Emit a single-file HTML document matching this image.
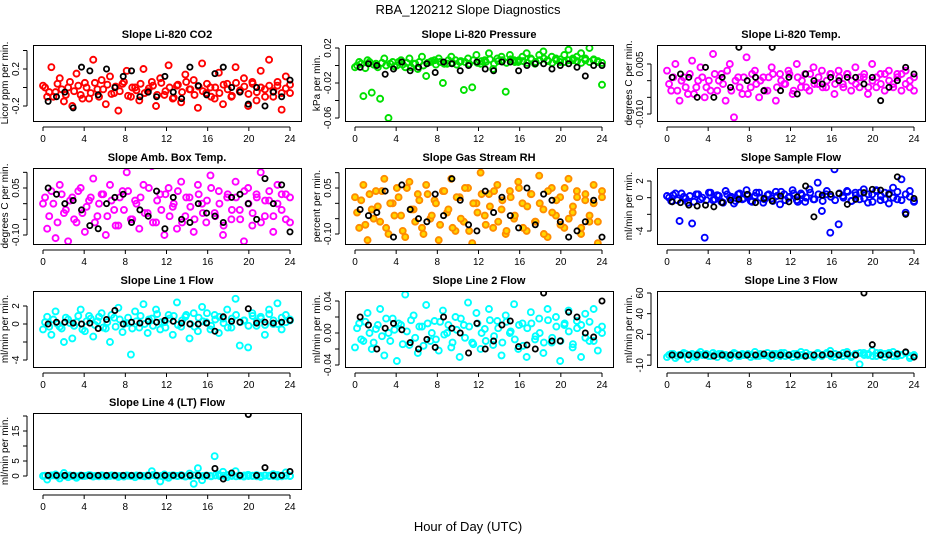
<!DOCTYPE html>
<html><head><meta charset="utf-8"><style>
body{margin:0;background:#fff;}
svg{display:block;font-family:"Liberation Sans",Arial,sans-serif;}
</style></head><body>
<svg id="c" width="936" height="540" viewBox="0 0 936 540">
<text x="468" y="14" text-anchor="middle" font-size="13">RBA_120212  Slope Diagnostics</text>
<text x="468" y="531" text-anchor="middle" font-size="13">Hour of Day (UTC)</text>
</svg>
<script>
// x ticks (hours)
const xTicks = [0,4,8,12,16,20,24];
// Panel 1: Li-820 CO2
const co2Color = [0.02,-0.1,0.22,-0.05,0.1,-0.15,0.0,-0.2,0.15,-0.08,0.05,-0.12,0.3,-0.02,0.08,-0.18,0.12,-0.06,-0.25,0.04,0.18,-0.1,0.0,-0.14,0.2,-0.04,0.06,-0.2,0.1,-0.08,0.24,-0.12,0.02,-0.16,0.14,-0.02,0.08,-0.22,0.26,-0.06,0.0,-0.12,0.16,-0.18,0.04,-0.1,0.22,-0.04,0.1,-0.2,0.06,-0.14,0.18,-0.02,0.3,-0.1,0.02,-0.24,0.12,-0.06];
const co2Core = [0.0,-0.05,-0.1,0.04,-0.02,-0.08,0.06,-0.04,0.02,-0.12,0.0,-0.06,0.05,-0.1,-0.02,0.03,-0.07,0.01,-0.04,0.06,-0.09,0.0,-0.03,0.04,-0.06,-0.01,0.02,-0.08,0.05,-0.04,0.0,-0.11,0.03,-0.05,0.06,-0.02,-0.08,0.01,-0.04,0.04,-0.1,0.0,-0.06,0.03,-0.02,-0.09,0.05,-0.03,0.01,-0.07,0.04,-0.05,0.0,-0.1,0.02,-0.04,0.06,-0.06,-0.01,0.03];
const co2Black = [-0.15,-0.1,-0.05,-0.22,0.22,0.18,-0.08,0.2,0.0,0.12,0.18,-0.1,-0.05,-0.1,0.12,-0.05,-0.12,0.22,0.02,-0.08,0.15,0.22,0.0,-0.05,-0.18,0.0,-0.2,-0.05,-0.1,0.08];
// Panel 2: Li-820 Pressure
const presColor = [-0.002,0.004,-0.035,0.006,-0.031,0.002,-0.038,0.008,-0.06,0.004,0.0,0.006,-0.002,0.008,0.002,-0.004,0.01,-0.012,0.004,0.006,0.008,-0.02,0.002,0.01,0.006,0.004,-0.028,0.008,-0.025,0.012,0.002,0.006,0.014,-0.004,0.008,0.01,-0.03,0.012,0.006,0.004,0.01,0.014,0.008,0.002,0.012,0.016,0.006,0.01,0.008,0.004,0.012,0.018,0.006,0.01,0.014,0.008,0.02,0.006,0.004,-0.022];
const presCore = [0.0,0.002,-0.003,0.004,0.001,-0.002,0.003,0.0,0.002,-0.001,0.004,0.001,0.003,-0.002,0.002,0.004,0.0,0.003,0.005,0.001,0.004,0.002,0.006,0.003,0.001,0.005,0.004,0.002,0.006,0.003,0.005,0.004,0.007,0.002,0.005,0.006,0.003,0.007,0.004,0.006,0.005,0.003,0.007,0.004,0.006,0.008,0.005,0.003,0.006,0.007,0.004,0.006,0.008,0.005,0.003,0.006,0.004,0.007,0.005,0.003];
const presBlack = [-0.002,0.002,0.0,-0.01,-0.004,0.004,-0.006,-0.002,0.002,-0.008,0.004,0.002,-0.006,0.0,0.004,-0.004,-0.006,0.004,0.004,-0.006,0.0,0.002,0.002,-0.004,0.0,0.002,-0.002,-0.012,0.0,0.0];
// Panel 3: Li-820 Temp
const tempColor = [0.003,-0.003,0.005,-0.006,0.001,-0.004,0.006,-0.002,0.004,-0.005,0.0,0.008,-0.003,0.002,-0.006,0.005,-0.011,0.001,-0.004,0.007,-0.002,0.003,-0.005,0.001,-0.003,0.004,-0.006,0.002,-0.001,0.003,-0.004,0.005,-0.002,0.002,-0.003,0.004,-0.001,0.003,-0.002,0.002,-0.004,0.003,-0.001,0.002,-0.003,0.004,-0.002,0.001,-0.004,0.005,-0.002,0.002,-0.003,0.003,-0.001,0.002,-0.003,0.003,-0.002,-0.003];
const tempCore = [-0.001,0.001,-0.003,0.0,-0.002,0.002,-0.004,0.0,0.001,-0.002,-0.003,0.002,0.0,-0.001,0.003,-0.003,0.0,-0.002,0.001,-0.004,0.002,-0.001,0.0,-0.003,0.001,0.002,-0.002,0.0,-0.001,0.002,-0.003,0.001,0.0,-0.002,0.002,-0.001,0.001,-0.002,0.0,0.002,-0.001,0.001,-0.002,0.002,0.0,-0.001,0.001,0.002,-0.002,0.0,0.001,-0.001,0.002,0.0,-0.002,0.001,0.002,-0.001,0.0,0.001];
const tempBlack = [0.001,0.002,0.001,-0.005,0.004,-0.005,0.001,-0.002,0.01,0.0,0.001,-0.003,0.01,-0.003,0.001,-0.004,0.002,0.0,-0.001,0.001,0.0,0.001,0.001,-0.001,0.001,-0.006,-0.002,0.0,0.004,0.002];
// Panel 4: Amb. Box Temp
const ambColor = [0.0,-0.08,0.04,-0.11,0.06,-0.03,-0.12,0.02,-0.06,0.05,-0.09,0.01,0.08,-0.04,0.03,-0.1,0.06,-0.02,-0.07,0.04,0.1,-0.05,0.01,-0.08,0.06,-0.03,0.12,-0.06,0.03,-0.1,0.05,-0.01,-0.08,0.07,-0.04,0.02,-0.09,0.06,0.0,-0.06,0.09,-0.03,0.04,-0.1,0.02,-0.05,0.07,-0.02,-0.12,0.05,-0.07,0.03,0.1,-0.04,0.01,-0.09,0.06,-0.02,0.03,-0.06];
const ambCore = [0.02,-0.04,0.0,-0.06,0.03,-0.02,0.01,-0.05,0.04,-0.03,-0.01,0.02,-0.06,0.0,0.03,-0.04,0.01,-0.07,0.02,-0.02,0.04,-0.05,0.0,0.02,-0.03,0.05,-0.06,0.01,-0.02,0.03,-0.04,0.0,0.04,-0.06,0.02,-0.01,-0.05,0.03,-0.03,0.01,0.05,-0.04,0.0,-0.07,0.03,-0.02,0.02,-0.05,0.04,0.0,-0.03,0.02,-0.06,0.01,0.04,-0.04,0.0,0.03,-0.05,0.02];
const ambBlack = [0.05,0.03,0.0,0.01,-0.02,-0.07,-0.08,0.0,0.02,0.03,-0.06,-0.02,-0.04,0.04,-0.08,0.02,-0.05,-0.06,0.0,-0.03,-0.04,-0.06,0.02,0.03,0.0,-0.05,0.08,0.0,0.06,-0.09];
// Panel 5: Gas Stream RH
const rhColor = [0.02,-0.08,0.06,-0.12,-0.02,0.04,-0.06,0.08,-0.1,0.0,0.05,-0.04,-0.11,0.07,-0.02,0.03,-0.08,0.06,-0.05,0.01,-0.12,0.04,-0.03,0.08,-0.09,0.02,-0.06,0.05,-0.13,0.0,0.1,-0.04,0.03,-0.08,0.06,-0.02,-0.1,0.04,-0.05,0.07,0.0,-0.09,0.03,-0.06,0.09,-0.02,-0.11,0.05,-0.04,0.02,-0.08,0.08,-0.03,0.04,-0.1,0.01,-0.06,0.06,-0.13,0.02];
const rhCore = [-0.03,0.01,-0.07,0.03,-0.05,-0.01,0.04,-0.08,0.0,-0.04,0.02,-0.09,0.05,-0.02,-0.06,0.01,-0.1,0.03,-0.04,0.0,-0.07,0.04,-0.02,-0.08,0.02,-0.05,0.05,-0.09,0.0,-0.03,0.03,-0.07,-0.01,0.04,-0.06,0.01,-0.09,0.02,-0.04,0.05,-0.08,-0.01,0.03,-0.06,0.0,-0.1,0.04,-0.03,0.01,-0.07,0.05,-0.05,-0.01,0.02,-0.08,0.03,-0.04,0.0,-0.06,0.04];
const rhBlack = [-0.02,-0.04,-0.03,0.04,-0.11,0.06,-0.02,-0.05,-0.06,0.03,-0.04,0.08,0.01,-0.07,-0.09,0.04,-0.03,0.02,-0.04,-0.08,0.05,-0.07,0.03,0.01,-0.06,-0.11,-0.09,-0.06,0.01,-0.11];
// Panel 6: Sample Flow
const sfColor = [0.2,-0.4,0.5,-2.8,0.1,-0.6,-3.1,0.4,-0.2,-4.8,0.6,-0.3,0.3,-0.5,0.8,0.0,-0.7,0.4,-0.2,0.9,-0.4,0.2,0.6,-0.6,0.3,-0.1,0.7,-0.8,0.4,0.0,0.9,-0.3,0.5,-0.5,1.0,-0.2,1.8,-1.6,0.4,-4.2,3.4,-3.2,0.2,0.8,-0.4,0.6,-0.2,1.0,-0.6,0.4,0.9,-0.3,0.6,-0.7,1.2,-0.2,2.2,-1.8,0.8,-0.5];
const sfCore = [0.0,0.3,-0.3,0.5,-0.1,0.2,-0.5,0.4,0.0,-0.3,0.6,-0.2,0.2,-0.6,0.4,0.1,-0.4,0.5,-0.1,0.3,-0.5,0.6,0.0,-0.2,0.4,-0.4,0.2,0.7,-0.3,0.1,0.5,-0.5,0.3,0.0,0.6,-0.2,0.4,-0.4,0.8,0.1,-0.3,0.5,0.0,0.7,-0.4,0.3,0.6,-0.1,0.4,-0.5,0.8,0.2,-0.2,0.5,0.0,0.7,-0.3,0.4,0.1,-0.4];
const sfBlack = [-0.5,-0.6,-0.9,-1.0,-0.9,-1.1,-0.6,-0.3,-0.2,0.4,-0.6,-0.1,-0.4,0.2,-0.5,0.1,1.4,-2.3,0.3,0.4,0.5,-0.8,-0.2,0.6,1.0,0.9,0.4,2.5,-2.0,-0.1];
// Panel 7: Line 1 Flow
const l1Color = [-0.6,0.8,-1.2,1.4,-0.3,-2.0,0.5,-1.6,0.2,1.6,-0.8,0.9,-1.4,0.3,1.2,-0.5,-2.0,0.7,1.8,-0.9,0.1,-3.4,1.4,-0.4,2.2,-1.0,0.6,1.6,-0.6,0.2,1.0,-1.2,2.4,-0.3,0.8,-1.6,1.2,-0.8,1.9,0.2,-0.6,1.0,-1.0,0.6,1.6,-0.4,2.8,-2.4,0.4,-2.6,1.2,-0.2,0.8,-1.2,1.6,0.0,2.3,-0.6,1.0,0.4];
const l1Core = [0.2,-0.3,0.5,0.0,-0.5,0.7,0.1,-0.2,0.9,-0.6,0.3,0.6,-0.1,0.8,-0.4,0.2,1.0,-0.3,0.5,0.0,0.7,-0.5,0.3,0.9,0.0,0.5,-0.2,1.1,0.2,-0.4,0.6,0.9,-0.1,0.4,1.0,0.0,-0.3,0.7,0.3,1.2,-0.2,0.5,0.8,0.1,-0.4,0.6,1.0,0.2,0.4,-0.2,0.9,0.3,0.6,-0.1,1.1,0.4,0.0,0.7,0.2,0.5];
const l1Black = [0.0,0.2,0.2,0.1,0.0,0.1,-0.5,0.5,1.5,0.0,0.2,0.1,0.3,0.2,0.4,0.3,0.1,0.0,0.0,0.1,-0.8,0.8,0.3,0.2,1.7,0.1,0.2,0.1,0.2,0.4];
// Panel 8: Line 2 Flow
const l2Color = [-0.018,0.012,-0.01,0.025,-0.02,0.005,0.03,-0.028,0.0,0.018,-0.035,0.01,0.048,-0.015,0.022,-0.025,0.008,0.035,-0.01,0.015,-0.022,0.028,0.0,-0.018,0.02,-0.03,0.01,0.038,-0.012,0.025,-0.02,0.005,0.03,-0.015,0.015,-0.028,0.022,0.0,0.036,-0.02,0.012,-0.03,0.026,-0.008,0.018,-0.025,0.03,-0.012,0.02,-0.035,0.01,0.028,-0.018,0.015,-0.03,0.024,-0.01,0.03,-0.022,0.008];
const l2Core = [0.006,-0.008,0.014,0.0,-0.012,0.01,-0.004,0.018,-0.01,0.004,0.012,-0.014,0.002,0.016,-0.006,0.008,-0.016,0.012,0.0,-0.008,0.014,-0.002,0.01,-0.012,0.004,0.018,-0.006,0.008,-0.014,0.012,0.0,-0.01,0.016,-0.004,0.006,-0.012,0.014,0.002,-0.008,0.01,-0.016,0.006,0.012,-0.004,0.0,-0.012,0.016,-0.006,0.008,-0.01,0.012,0.002,-0.014,0.006,0.01,-0.006,0.014,-0.01,0.004,0.0];
const l2Black = [0.02,0.01,-0.02,0.006,0.012,0.004,-0.012,-0.02,-0.008,-0.018,0.02,0.006,0.0,-0.025,0.012,-0.02,-0.01,0.01,0.015,-0.017,-0.015,-0.02,0.05,-0.01,-0.01,0.026,0.02,0.0,-0.005,0.04];
// Panel 9: Line 3 Flow
const l3Color = [-2,1,-3,0,2,-4,1,-2,3,0,-1,2,-2,1,0,-3,2,-1,1,0,-2,3,-1,0,2,-3,1,-1,2,0,-2,1,3,-1,0,-2,2,-1,1,4,-2,0,-1,3,-2,1,-9,2,0,4,-1,2,-2,1,3,-1,0,2,-3,-1];
const l3Core = [0,1,-1,0,1,0,-1,1,0,1,-1,0,1,0,-1,0,1,-1,0,1,0,-1,1,0,-1,1,0,2,-1,0,1,-1,0,2,0,-1,1,0,2,-1,1,0,2,0,-1,1,2,0,1,-1,2,0,1,2,-1,1,0,2,-1,0];
const l3Black = [0,0,0,0,0,-1,0,0,0,0,0,1,0,0,0,0,-1,0,0,1,0,1,0,60,10,0,0,1,3,-2];
// Panel 10: Line 4 (LT) Flow
const l4Color = [0.0,-1.2,0.2,0.5,-0.8,1.0,-0.4,0.0,-0.6,0.2,0.0,0.3,-0.2,0.0,0.2,-0.1,0.0,0.1,-0.3,0.0,0.2,0.0,-0.4,0.1,0.0,0.2,1.6,0.0,-1.8,0.5,-0.6,0.2,0.0,0.3,-0.2,0.8,-2.6,2.6,-1.4,0.2,0.0,6.6,0.5,1.4,-0.4,0.2,1.6,0.0,-0.2,0.4,0.0,0.3,-0.3,0.2,0.0,0.6,-0.2,0.1,1.2,0.0];
const l4Core = [0.1,0.0,0.2,-0.1,0.1,0.0,0.2,0.1,-0.1,0.0,0.1,0.2,0.0,-0.1,0.1,0.0,0.2,0.1,0.0,-0.2,0.1,0.0,0.2,0.1,-0.1,0.0,0.3,0.1,0.0,-0.2,0.1,0.2,0.0,0.1,-0.1,0.0,0.2,0.1,0.0,0.1,-0.1,0.2,0.0,0.1,0.3,0.0,-0.1,0.1,0.2,0.0,0.1,-0.1,0.0,0.2,0.1,0.0,0.3,-0.1,0.1,0.0];
const l4Black = [0.2,0.2,0.2,0.2,0.2,0.1,0.2,0.2,0.2,0.2,0.2,0.2,0.2,0.2,0.2,0.2,0.2,0.2,0.2,0.2,2.5,-1.0,1.0,0.2,20.5,0.2,2.8,0.2,0.2,1.5];

const panels = [
 {t:"Slope Li-820 CO2",yl:"Licor ppm per min.",col:co2Color,core:co2Core,blk:co2Black,c:"#ff0000",f:"none",v1:0.2,p1:69,v2:-0.2,p2:106,ticks:[0.4,0.2,0,-0.2,-0.4],lab:[null,"0.2",null,"-0.2",null]},
 {t:"Slope Li-820 Pressure",yl:"kPa per min.",col:presColor,core:presCore,blk:presBlack,c:"#00e000",f:"none",v1:0.02,p1:48,v2:-0.06,p2:118,ticks:[0.02,0,-0.02,-0.04,-0.06],lab:["0.02",null,"-0.02",null,"-0.06"]},
 {t:"Slope Li-820 Temp.",yl:"degrees C per min.",col:tempColor,core:tempCore,blk:tempBlack,c:"#ff00ff",f:"none",v1:0.005,p1:64,v2:-0.01,p2:114,ticks:[0.005,0,-0.005,-0.01],lab:["0.005",null,null,"-0.010"]},
 {t:"Slope Amb. Box Temp.",yl:"degrees C per min.",col:ambColor,core:ambCore,blk:ambBlack,c:"#ff00ff",f:"none",v1:0.05,p1:188,v2:-0.1,p2:235,ticks:[0.1,0.05,0,-0.05,-0.1],lab:[null,"0.05",null,null,"-0.10"]},
 {t:"Slope Gas Stream RH",yl:"percent per min.",col:rhColor,core:rhCore,blk:rhBlack,c:"#ff8c00",f:"#ffd700",v1:0.05,p1:188,v2:-0.1,p2:234,ticks:[0.1,0.05,0,-0.05,-0.1],lab:[null,"0.05",null,null,"-0.10"]},
 {t:"Slope Sample Flow",yl:"ml/min per min.",col:sfColor,core:sfCore,blk:sfBlack,c:"#0000ff",f:"none",v1:2,p1:181,v2:-4,p2:231,ticks:[2,0,-2,-4],lab:["2","0",null,"-4"]},
 {t:"Slope Line 1 Flow",yl:"ml/min per min.",col:l1Color,core:l1Core,blk:l1Black,c:"#00ffff",f:"none",v1:2,p1:306,v2:-4,p2:360,ticks:[2,0,-2,-4],lab:["2","0",null,"-4"]},
 {t:"Slope Line 2 Flow",yl:"ml/min per min.",col:l2Color,core:l2Core,blk:l2Black,c:"#00ffff",f:"none",v1:0.04,p1:301,v2:-0.04,p2:365,ticks:[0.04,0.02,0,-0.02,-0.04],lab:["0.04",null,"0.00",null,"-0.04"]},
 {t:"Slope Line 3 Flow",yl:"ml/min per min.",col:l3Color,core:l3Core,blk:l3Black,c:"#00ffff",f:"none",v1:60,p1:293,v2:0,p2:355,ticks:[60,40,20,0,-10],lab:["60","40","20",null,"-10"]},
 {t:"Slope Line 4 (LT) Flow",yl:"ml/min per min.",col:l4Color,core:l4Core,blk:l4Black,c:"#00ffff",f:"none",v1:15,p1:431,v2:0,p2:476,ticks:[20,15,10,5,0],lab:[null,"15",null,"5","0"]}
];
const NS="http://www.w3.org/2000/svg";
const svg=document.getElementById("c");
function mk(tag,attrs,parent){const e=document.createElementNS(NS,tag);for(const k in attrs)e.setAttribute(k,attrs[k]);(parent||svg).appendChild(e);return e;}
panels.forEach((p,i)=>{
  const col=i%3,row=Math.floor(i/3);
  const bx=33+col*312,bw=268;
  const by=[45,168,291,413][row],bh=76;
  const g=mk("g",{});
  
  
  const x=h=>bx+10+h*(247/24);
  const y=v=>p.p1+(v-p.v1)*(p.p2-p.p1)/(p.v2-p.v1);
  const clip=mk("clipPath",{id:"cl"+i},g);
  mk("rect",{x:bx,y:by,width:bw,height:bh},clip);
  const tt=mk("text",{x:bx+bw/2,y:by-7,"text-anchor":"middle","font-size":11,"font-weight":"bold"},g);tt.textContent=p.t;
  
  
  const pts=mk("g",{"clip-path":"url(#cl"+i+")"},g);
  
  
  const drawColored=(arr,off)=>arr.forEach((v,k)=>{const h=off+k*(24-off)/(arr.length-1);
    const c=mk("circle",{cx:x(h),cy:y(v),r:3,fill:p.f==="none"?"none":p.f,stroke:p.c,"stroke-width":1.9},pts);
    
    });
  drawColored(p.col,0);
  drawColored(p.core,0.2);
  p.blk.forEach((v,k)=>{const h=0.5+k*23.5/(p.blk.length-1);
    const c=mk("circle",{cx:x(h),cy:y(v),r:2.6,fill:"none",stroke:"#000","stroke-width":1.8},pts);
    
    });
  const r=mk("rect",{x:bx+0.5,y:by+0.5,width:bw,height:bh,fill:"none",stroke:"#000","stroke-width":1},g);
  
  
  const ay=by+bh+6;
  mk("line",{x1:x(0),x2:x(24),y1:ay,y2:ay,stroke:"#000"},g);
  xTicks.forEach(t=>{mk("line",{x1:x(t),x2:x(t),y1:ay,y2:ay+4,stroke:"#000"},g);
    const l=mk("text",{x:x(t),y:ay+15,"text-anchor":"middle","font-size":10},g);l.textContent=t;
    
    });
  const ax=bx-6;
  const vis=p.ticks.filter(t=>y(t)>=by-2&&y(t)<=by+bh+2);
  const ys=vis.map(y);
  mk("line",{x1:ax,x2:ax,y1:Math.min(...ys),y2:Math.max(...ys),stroke:"#000"},g);
  p.ticks.forEach((t,k)=>{const yy=y(t);if(yy<by-2||yy>by+bh+2)return;
    mk("line",{x1:ax-4,x2:ax,y1:yy,y2:yy,stroke:"#000"},g);
    if(p.lab[k]){const l=mk("text",{x:ax-8,y:yy,"text-anchor":"middle","font-size":10,transform:`rotate(-90 ${ax-8} ${yy})`},g);l.textContent=p.lab[k];
      
      }});
  const yl=mk("text",{x:bx-25,y:by+bh/2,"text-anchor":"middle","font-size":10,transform:`rotate(-90 ${bx-25} ${by+bh/2})`},g);yl.textContent=p.yl;
  
  
});
</script>
</body></html>
